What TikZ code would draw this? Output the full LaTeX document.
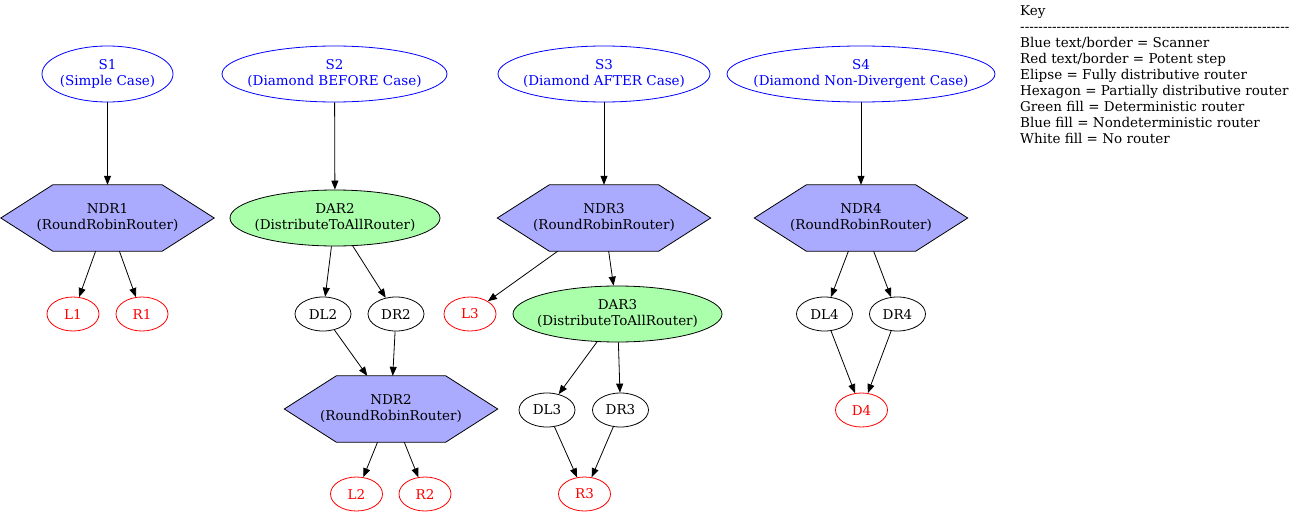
\documentclass[tikz,border=0pt]{standalone}
\usepackage{fontspec}
\setmainfont{DejaVu Serif}
\usetikzlibrary{shapes.geometric,arrows.meta,backgrounds}
\definecolor{hexblue}{HTML}{AAAAFF}
\definecolor{dargreen}{HTML}{AAFFAA}
\newcommand\keydashes{\foreach \i in {1,...,59}{\mbox{-}}}
\tikzset{
  base/.style={font=\fontsize{13.5}{16}\selectfont, align=center},
  ell/.style={base, ellipse, draw, line width=0.8pt, inner sep=-30pt},
  scanner/.style={ell, draw=blue, text=blue, minimum height=56pt},
  potent/.style={ell, draw=red, text=red, minimum width=52pt, minimum height=34pt},
  plainnode/.style={ell, draw=black, minimum width=56pt, minimum height=34pt},
  dar/.style={ell, fill=dargreen, minimum width=210pt, minimum height=56pt},
  hexnode/.style={base, rectangle, inner sep=0pt, minimum width=213pt, minimum height=66pt},
  hexshape/.style={fill=hexblue, draw=black, line width=0.8pt},
  edge/.style={-{Triangle[length=9pt,width=7pt]}, line width=0.8pt},
}
\begin{document}
\begin{tikzpicture}[x=1pt,y=-1pt]
\useasboundingbox (0,0) rectangle (1294,514);
% scanners
\node[scanner, minimum width=131pt] (S1) at (107.5,74) {S1\\(Simple Case)};
\node[scanner, minimum width=225pt] (S2) at (334.5,74) {S2\\(Diamond BEFORE Case)};
\node[scanner, minimum width=212pt] (S3) at (604,74) {S3\\(Diamond AFTER Case)};
\node[scanner, minimum width=268pt] (S4) at (861,74) {S4\\(Diamond Non-Divergent Case)};
% routers
\node[hexnode] (NDR1) at (107.5,218) {NDR1\\(RoundRobinRouter)};
\node[dar] (DAR2) at (335,218) {DAR2\\(DistributeToAllRouter)};
\node[hexnode] (NDR3) at (604,218) {NDR3\\(RoundRobinRouter)};
\node[hexnode] (NDR4) at (861,218) {NDR4\\(RoundRobinRouter)};
% row 3
\node[potent] (L1) at (73,314) {L1};
\node[potent] (R1) at (142,314) {R1};
\node[plainnode] (DL2) at (323,314) {DL2};
\node[plainnode] (DR2) at (396,314) {DR2};
\node[potent] (L3) at (470,314) {L3};
\node[dar, minimum width=209pt] (DAR3) at (617.5,314) {DAR3\\(DistributeToAllRouter)};
\node[plainnode] (DL4) at (824.5,314) {DL4};
\node[plainnode] (DR4) at (897.5,314) {DR4};
% row 4
\node[hexnode] (NDR2) at (391,409) {NDR2\\(RoundRobinRouter)};
\node[plainnode] (DL3) at (547,410) {DL3};
\node[plainnode] (DR3) at (620.5,410) {DR3};
\node[potent] (D4) at (861.5,410) {D4};
% row 5
\node[potent] (L2) at (356.5,494) {L2};
\node[potent] (R2) at (425,494) {R2};
\node[potent] (R3) at (584.5,494) {R3};
% hexagons
\begin{scope}[on background layer]
\foreach \n in {NDR1,NDR2,NDR3,NDR4}
  \path[hexshape] (\n.west) -- ([xshift=52pt]\n.north west) -- ([xshift=-52pt]\n.north east)
    -- (\n.east) -- ([xshift=-52pt]\n.south east) -- ([xshift=52pt]\n.south west) -- cycle;
\end{scope}
% edges
\draw[edge] (S1) -- (NDR1);
\draw[edge] (NDR1) -- (L1);
\draw[edge] (NDR1) -- (R1);
\draw[edge] (S2) -- (DAR2);
\draw[edge] (DAR2) -- (DL2);
\draw[edge] (DAR2) -- (DR2);
\draw[edge] (DL2) -- (NDR2);
\draw[edge] (DR2) -- (NDR2);
\draw[edge] (NDR2) -- (L2);
\draw[edge] (NDR2) -- (R2);
\draw[edge] (S3) -- (NDR3);
\draw[edge] (NDR3) -- (L3);
\draw[edge] (NDR3) -- (DAR3);
\draw[edge] (DAR3) -- (DL3);
\draw[edge] (DAR3) -- (DR3);
\draw[edge] (DL3) -- (R3);
\draw[edge] (DR3) -- (R3);
\draw[edge] (S4) -- (NDR4);
\draw[edge] (NDR4) -- (DL4);
\draw[edge] (NDR4) -- (DR4);
\draw[edge] (DL4) -- (D4);
\draw[edge] (DR4) -- (D4);
% key
\node[base, align=left, anchor=west, inner sep=0pt] (key) at (1020,75) {Key\\
\keydashes\\
Blue text/border = Scanner\\
Red text/border = Potent step\\
Elipse = Fully distributive router\\
Hexagon = Partially distributive router\\
Green fill = Deterministic router\\
Blue fill = Nondeterministic router\\
White fill = No router};
\end{tikzpicture}
\end{document}
